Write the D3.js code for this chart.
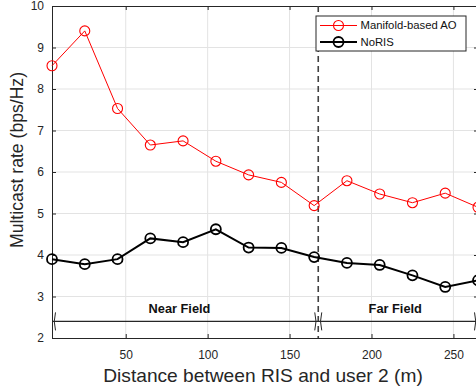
<!DOCTYPE html>
<html>
<head>
<meta charset="utf-8">
<script src="https://cdn.jsdelivr.net/npm/d3@7"></script>
<style>
body { margin: 0; background: #fff; }
svg { font-family: "Liberation Sans", Arial, sans-serif; }
</style>
</head>
<body>
<div id="chart"></div>
<script>
var distances = [5, 25, 45, 65, 85, 105, 125, 145, 165, 185, 205, 225, 245, 265];
var manifoldAO = [8.56, 9.40, 7.53, 6.65, 6.75, 6.26, 5.93, 5.75, 5.19, 5.79, 5.47, 5.26, 5.49, 5.15];
var noRIS = [3.90, 3.78, 3.90, 4.40, 4.31, 4.62, 4.18, 4.17, 3.95, 3.81, 3.76, 3.51, 3.23, 3.39];
var xTicks = [50, 100, 150, 200, 250];
var yTicks = [2, 3, 4, 5, 6, 7, 8, 9, 10];
var boundary = 167.5;
var regions = [
    { label: "Near Field", from: 5, to: boundary, mid: 82.8 },
    { label: "Far Field", from: boundary, to: 265, mid: 214.5 }
];
var arrowLevel = 2.4;

var series = [
    { name: "Manifold-based AO", values: manifoldAO, color: "#ff0000", width: 1, mw: 1.1 },
    { name: "NoRIS", values: noRIS, color: "#000000", width: 2, mw: 1.8 }
];

var W = 476, H = 390;
var padL = 52, padT = 6, padR = 478, padB = 338;
var axisColor = "#262626";

var svg = d3.select("#chart").append("svg").attr("width", W).attr("height", H);

var x = d3.scaleLinear().domain([5, 265]).range([padL, padR]);
var y = d3.scaleLinear().domain([2, 10]).range([padB, padT]);

// grid
svg.append("g").selectAll("line").data(xTicks).enter().append("line")
    .attr("x1", function (d) { return x(d); }).attr("x2", function (d) { return x(d); })
    .attr("y1", padT).attr("y2", padB)
    .style("stroke", "#e3e3e3").style("stroke-width", 1);
svg.append("g").selectAll("line").data(yTicks.slice(1, -1)).enter().append("line")
    .attr("x1", padL).attr("x2", padR)
    .attr("y1", function (d) { return y(d); }).attr("y2", function (d) { return y(d); })
    .style("stroke", "#e3e3e3").style("stroke-width", 1);

// axes
svg.append("g").attr("transform", "translate(0," + padB + ")")
    .call(d3.axisBottom(x).tickValues(xTicks).tickSizeInner(-4).tickSizeOuter(0).tickPadding(12));
svg.append("g").attr("transform", "translate(" + padL + ",0)")
    .call(d3.axisLeft(y).tickValues(yTicks).tickSizeInner(-4).tickSizeOuter(0).tickPadding(8));
svg.append("g").attr("transform", "translate(0," + padT + ")")
    .call(d3.axisTop(x).tickValues(xTicks).tickSizeInner(-4).tickSizeOuter(0).tickFormat(""));
svg.append("g").attr("transform", "translate(" + padR + ",0)")
    .call(d3.axisRight(y).tickValues(yTicks).tickSizeInner(-4).tickSizeOuter(0).tickFormat(""));
svg.selectAll(".domain").style("stroke", axisColor);
svg.selectAll(".tick line").style("stroke", axisColor);
svg.selectAll(".tick text").style("fill", axisColor).style("font-size", "12px")
    .style("font-family", "'Liberation Sans', Arial, sans-serif");

// boundary dashed line
svg.append("line")
    .attr("x1", x(boundary)).attr("x2", x(boundary))
    .attr("y1", padT).attr("y2", padB)
    .style("stroke", "#404040").style("stroke-width", 1.6)
    .style("stroke-dasharray", "6,4");

// region arrows
svg.append("line")
    .attr("x1", padL).attr("x2", padR)
    .attr("y1", y(arrowLevel)).attr("y2", y(arrowLevel))
    .style("stroke", axisColor).style("stroke-width", 1.2);

function head(px, dir) {
    var py = y(arrowLevel);
    return "M" + (px + dir * 2.5) + "," + (py - 9) + "Q" + px + "," + py + " " + (px + dir * 2.5) + "," + (py + 9);
}
regions.forEach(function (r) {
    svg.append("path").attr("d", head(x(r.from) + 1, 1))
        .style("fill", "none").style("stroke", axisColor).style("stroke-width", 1);
    svg.append("path").attr("d", head(x(r.to) - 1, -1))
        .style("fill", "none").style("stroke", axisColor).style("stroke-width", 1);
});
svg.selectAll(".region-label").data(regions).enter().append("text")
    .attr("x", function (d) { return x(d.mid); })
    .attr("y", y(2.6))
    .attr("text-anchor", "middle")
    .style("font-size", "12.8px").style("font-weight", "bold").style("fill", "#111")
    .text(function (d) { return d.label; });

// series
var line = d3.line()
    .x(function (d, i) { return x(distances[i]); })
    .y(function (d) { return y(d); });

var g = svg.selectAll(".series").data(series).enter().append("g");
g.append("path")
    .attr("d", function (d) { return line(d.values); })
    .style("fill", "none")
    .style("stroke", function (d) { return d.color; })
    .style("stroke-width", function (d) { return d.width; });
g.each(function (s) {
    d3.select(this).selectAll("circle").data(s.values).enter().append("circle")
        .attr("cx", function (d, i) { return x(distances[i]); })
        .attr("cy", function (d) { return y(d); })
        .attr("r", 5)
        .style("fill", "none")
        .style("stroke", s.color)
        .style("stroke-width", s.mw);
});

// legend
var lg = svg.append("g").attr("transform", "translate(316,16)");
lg.append("rect").attr("width", 150).attr("height", 35)
    .style("fill", "#fff").style("stroke", axisColor).style("stroke-width", 1);
var items = lg.selectAll(".item").data(series).enter().append("g")
    .attr("transform", function (d, i) { return "translate(0," + (9.5 + i * 16.5) + ")"; });
items.append("line").attr("x1", 4).attr("x2", 41)
    .style("stroke", function (d) { return d.color; })
    .style("stroke-width", function (d) { return d.width; });
items.append("circle").attr("cx", 22.5).attr("r", 5)
    .style("fill", "none")
    .style("stroke", function (d) { return d.color; })
    .style("stroke-width", function (d) { return d.mw; });
items.append("text").attr("x", 44.5).attr("dy", "0.35em")
    .style("font-size", "11.3px").style("fill", "#111")
    .text(function (d) { return d.name; });

// axis labels
svg.append("text")
    .attr("transform", "translate(263,381.5) scale(1.09,1)")
    .attr("text-anchor", "middle")
    .style("font-size", "17.6px").style("fill", axisColor)
    .text("Distance between RIS and user 2 (m)");
svg.append("text")
    .attr("transform", "translate(23,160) rotate(-90)")
    .attr("text-anchor", "middle")
    .style("font-size", "17.6px").style("fill", axisColor)
    .text("Multicast rate (bps/Hz)");
</script>
</body>
</html>
